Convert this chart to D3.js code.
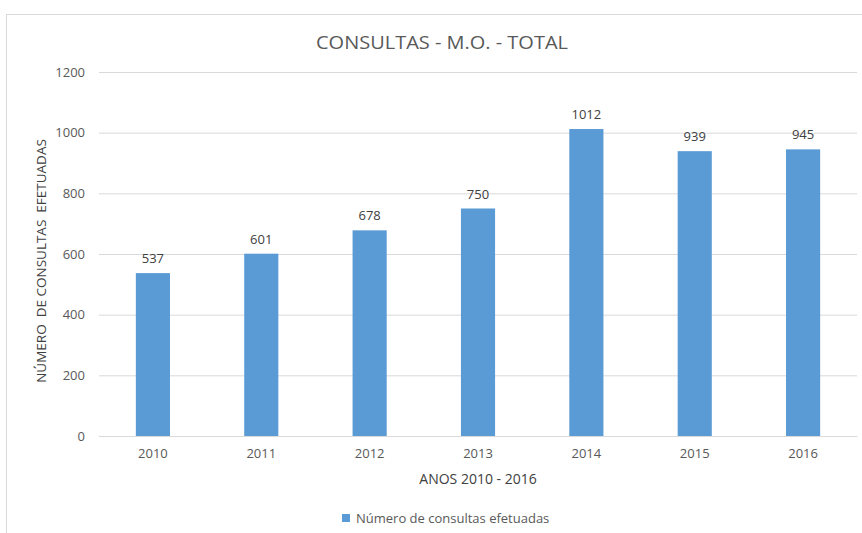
<!DOCTYPE html>
<html><head><meta charset="utf-8">
<script src="https://cdn.jsdelivr.net/npm/d3@7"></script>
<style>body{margin:0;background:#fff;} text{font-family:"Open Sans","Noto Sans",sans-serif;}</style>
</head><body>
<svg id="c" width="862" height="533"></svg>
<script>
const years = ["2010","2011","2012","2013","2014","2015","2016"];
const consultas = [537, 601, 678, 750, 1012, 939, 945];
const yTicks = [0, 200, 400, 600, 800, 1000, 1200];
const title = "CONSULTAS - M.O. - TOTAL";
const yTitle = "NÚMERO  DE CONSULTAS  EFETUADAS";
const xTitle = "ANOS 2010 - 2016";
const seriesName = "Número de consultas efetuadas";

const svg = d3.select("#c");
svg.append("rect").attr("x",6.5).attr("y",14.5).attr("width",880).attr("height",560)
  .attr("fill","#fff").attr("stroke","#D9D9D9");

const m = {l:99, r:857, t:72, b:436};
const x = d3.scaleBand().domain(years).range([m.l, m.r]).paddingInner(0.685).paddingOuter(0.34);
const y = d3.scaleLinear().domain([0,1200]).range([m.b, m.t]);

const grid = d3.axisLeft(y).tickValues(yTicks).tickSize(-(m.r-m.l)).tickFormat(d=>d).tickPadding(14);
const gy = svg.append("g").attr("transform",`translate(${m.l},0)`).call(grid);
gy.select(".domain").remove();
gy.selectAll("line").attr("stroke","#D9D9D9");
gy.selectAll("text").attr("fill","#595959").style("font-size","13px");

svg.selectAll("rect.bar").data(consultas).join("rect").attr("class","bar")
  .attr("x",(d,i)=>x(years[i])).attr("width",x.bandwidth())
  .attr("y",d=>y(d)).attr("height",d=>y(0)-y(d)).attr("fill","#5B9BD5");

svg.selectAll("text.lbl").data(consultas).join("text").attr("class","lbl")
  .attr("x",(d,i)=>x(years[i])+x.bandwidth()/2).attr("y",d=>y(d)-10)
  .attr("text-anchor","middle").attr("fill","#404040").style("font-size","13px").text(d=>d);

const gx = svg.append("g").attr("transform",`translate(0,${m.b})`).call(d3.axisBottom(x).tickSize(0).tickPadding(13));
gx.select(".domain").attr("stroke","#D9D9D9");
gx.selectAll("text").attr("fill","#595959").style("font-size","13px");

svg.append("text").attr("x",442).attr("y",49).attr("text-anchor","middle").attr("fill","#595959")
  .style("font-size","19px").attr("textLength",252).attr("lengthAdjust","spacingAndGlyphs").text(title);
svg.append("text").attr("x",478).attr("y",484).attr("text-anchor","middle").attr("fill","#404040")
  .style("font-size","14px").text(xTitle);
svg.append("text").attr("transform","translate(46,261) rotate(-90)").attr("text-anchor","middle").attr("fill","#404040")
  .style("font-size","13.5px").attr("xml:space","preserve").text(yTitle);

svg.append("rect").attr("x",342).attr("y",514).attr("width",8).attr("height",8).attr("fill","#5B9BD5");
svg.append("text").attr("x",356).attr("y",523).attr("fill","#595959").style("font-size","13px").text(seriesName);
</script>
</body></html>
